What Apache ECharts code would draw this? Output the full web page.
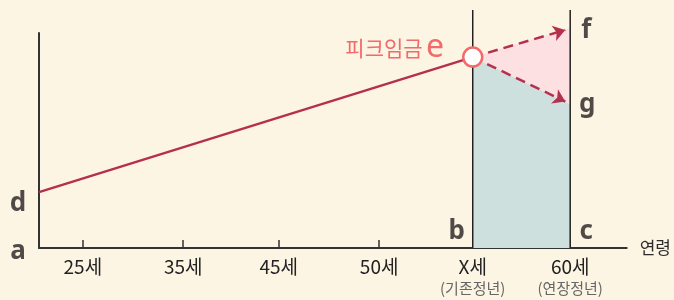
<!DOCTYPE html>
<html>
<head>
<meta charset="utf-8">
<script src="https://cdn.jsdelivr.net/npm/echarts@6/dist/echarts.min.js"></script>
<style>
  html, body { margin: 0; padding: 0; background: #fdf5e3; }
  #wageChart { width: 674px; height: 300px; }
</style>
</head>
<body>
<div id="wageChart"></div>
<script>
    // 연령 축 (눈금 위치는 그림에서 읽은 값)
    var tickPos = [1.0, 2.03, 3.01, 4.04, 5.0, 6.0];
    var tickLabels = ['25세', '35세', '45세', '50세', 'X세', '60세'];
    var tickSubLabels = ['', '', '', '', '(기존정년)', '(연장정년)'];

    var xStart = 0.55, xEnd = 6.58;
    var xOld = 5.0;   // 기존정년
    var xNew = 6.0;   // 연장정년

    // 임금 값 (0 = a)
    var dVal = 26.0;
    var eVal = 88.8;
    var fVal = 102.3;
    var gVal = 67.0;
    var topVal = 110.7;   // 세로선 끝
    var arrowX = 5.95;
    var fTip = 101.4, gTip = 68.1;

    var chart = echarts.init(document.getElementById('wageChart'));

    function polygon(params, api, pts, color) {
        return {
            type: 'polygon',
            shape: { points: pts.map(function (p) { return api.coord(p); }) },
            style: { fill: color }
        };
    }

    var letterFont = { fontFamily: 'Noto Sans', fontSize: 26, fontWeight: 'bold', color: '#231f20' };

    function letter(name, x, y, off) {
        return {
            value: [x, y],
            label: { show: true, formatter: name, position: 'inside', offset: off }
        };
    }

    var option = {
        backgroundColor: '#fdf5e3',
        animation: false,
        grid: { left: 39, right: 44, top: 33, bottom: 52 },
        xAxis: {
            type: 'value',
            min: xStart,
            max: xEnd,
            name: '연령',
            nameLocation: 'end',
            nameGap: 13,
            nameTextStyle: { fontFamily: 'Noto Sans CJK KR', fontSize: 17, color: '#2b2b2b', verticalAlign: 'middle' },
            splitLine: { show: false },
            axisLine: { lineStyle: { color: '#333', width: 2 } },
            axisTick: { show: true, inside: true, length: 8, customValues: tickPos, lineStyle: { color: '#333', width: 1.5 } },
            axisLabel: {
                customValues: tickPos,
                margin: 7,
                formatter: function (v) {
                    var i = 0, best = 99;
                    tickPos.forEach(function (p, k) {
                        if (Math.abs(p - v) < best) { best = Math.abs(p - v); i = k; }
                    });
                    var s = '{t|' + tickLabels[i] + '}';
                    if (tickSubLabels[i]) s += '\n{s|' + tickSubLabels[i] + '}';
                    return s;
                },
                rich: {
                    t: { fontFamily: 'Noto Sans CJK KR', fontSize: 19, color: '#222', lineHeight: 23 },
                    s: { fontFamily: 'Noto Sans CJK KR', fontSize: 15, color: '#666', lineHeight: 21 }
                }
            }
        },
        yAxis: {
            type: 'value',
            min: 0,
            max: 100,
            splitLine: { show: false },
            axisTick: { show: false },
            axisLabel: { show: false },
            axisLine: { show: true, lineStyle: { color: '#333', width: 2 } }
        },
        series: [
            {
                type: 'custom',
                clip: false,
                z: 1,
                data: [0],
                renderItem: function (params, api) {
                    return {
                        type: 'group',
                        children: [
                            polygon(params, api, [[xOld, 0], [xOld, eVal], [xNew, gVal], [xNew, 0]], '#cde0de'),
                            polygon(params, api, [[xOld, eVal], [xNew, fVal], [xNew, gVal]], '#fde0e1')
                        ]
                    };
                }
            },
            {
                type: 'line',
                clip: false,
                z: 2,
                symbol: 'none',
                lineStyle: { color: '#231f20', width: 1.5 },
                data: [[xOld, 0], [xOld, topVal]]
            },
            {
                type: 'line',
                clip: false,
                z: 2,
                symbol: 'none',
                lineStyle: { color: '#231f20', width: 1.5 },
                data: [[xNew, 0], [xNew, topVal]]
            },
            {
                type: 'line',
                z: 3,
                symbol: 'none',
                lineStyle: { color: '#b5304e', width: 2.5 },
                data: [[xStart, dVal], [xOld, eVal]]
            },
            {
                type: 'lines',
                coordinateSystem: 'cartesian2d',
                clip: false,
                z: 3,
                symbol: ['none', 'arrow'],
                symbolSize: 12,
                lineStyle: { color: '#b5304e', width: 2.5, type: [10, 6], opacity: 1 },
                data: [
                    { coords: [[xOld, eVal], [arrowX, fTip]] },
                    { coords: [[xOld, eVal], [arrowX, gTip]] }
                ]
            },
            {
                type: 'scatter',
                z: 5,
                clip: false,
                symbolSize: 19,
                itemStyle: { color: '#ffffff', borderColor: '#f26a69', borderWidth: 2.5, opacity: 1 },
                label: {
                    show: true,
                    position: 'left',
                    distance: 18,
                    offset: [0, -9],
                    formatter: '{k|피크임금} {e|e}',
                    rich: {
                        k: { fontFamily: 'Noto Sans CJK KR', fontSize: 21, color: '#f26a69' },
                        e: { fontFamily: 'Noto Sans', fontSize: 32, color: '#f26a69' }
                    }
                },
                data: [[xOld, eVal]]
            },
            {
                type: 'scatter',
                z: 6,
                clip: false,
                symbolSize: 0,
                label: letterFont,
                data: [
                    letter('a', xStart, 0, [-21, 4]),
                    letter('d', xStart, dVal, [-21, 11]),
                    letter('b', xOld, 0, [-16, -16]),
                    letter('c', xNew, 0, [16, -16]),
                    letter('f', xNew, fVal, [16, 3]),
                    letter('g', xNew, gVal, [17, 1])
                ]
            }
        ]
    };
    chart.setOption(option);
</script>
</body>
</html>
